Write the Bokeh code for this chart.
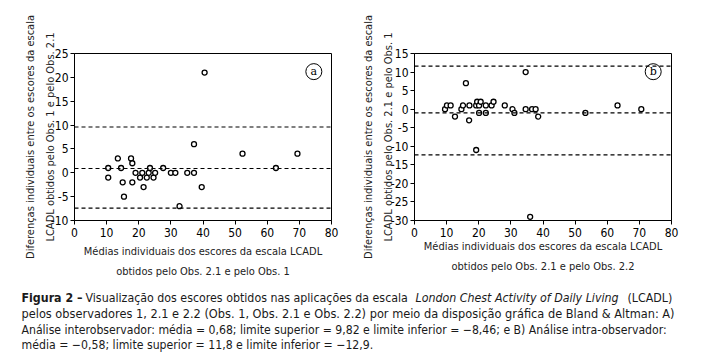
from bokeh.plotting import figure
from bokeh.models import Range1d, Span, FixedTicker
from bokeh.layouts import column, row
from bokeh.embed import file_html
from bokeh.resources import INLINE
from bokeh.core.properties import value

# ---- data: panel a (Obs. 1 vs Obs. 2.1) ----
a_mean = [10.5, 10.5, 13.5, 14.5, 15.0, 15.4, 17.6, 18.0, 18.0, 19.0, 20.4, 21.1, 21.5,
          22.5, 23.1, 23.5, 24.6, 25.1, 27.6, 30.0, 31.4, 32.7, 35.1, 37.2, 37.2, 39.6,
          40.5, 52.3, 62.7, 69.4]
a_diff = [1, -1, 3, 1, -2, -5, 3, 2, -2, 0, -1, 0, -3,
          -1, 0, 1, -1, 0, 1, 0, 0, -7, 0, 6, 0, -3,
          21, 4, 1, 4]
a_lines = [9.6, 0.9, -7.4]

# ---- data: panel b (Obs. 2.1 vs Obs. 2.2) ----
b_mean = [9.5, 10.1, 11.25, 12.6, 14.6, 15.1, 16.0, 17.0, 17.1, 19.2, 19.2, 19.5, 20.1,
          20.1, 20.6, 22.2, 22.2, 24.0, 24.6, 28.1, 30.5, 31.1, 34.6, 34.6, 36.0, 36.6,
          37.7, 38.5, 53.2, 63.2, 70.6]
b_diff = [0, 1, 1, -2, 0, 1, 7, -3, 1, -11, 1, 2, 1,
          -1, 2, 1, -1, 1, 2, 1, 0, -1, 10, 0, -29, 0,
          0, -2, -1, 1, 0]
b_lines = [11.6, -1.0, -12.3]

x_ticks = [0, 10, 20, 30, 40, 50, 60, 70, 80]
a_yticks = [-10, -5, 0, 5, 10, 15, 20, 25]
b_yticks = [-30, -25, -20, -15, -10, -5, 0, 5, 10, 15]

FONT = "DejaVu Sans Condensed"


def panel(xs, ys, lines, yticks, ylabel, xlabel, letter, letter_pos, borders, ystand, xstand):
    left, right, top, bottom = borders
    p = figure(frame_width=257, frame_height=167, output_backend="svg",
               toolbar_location=None, x_range=Range1d(0, 80),
               y_range=Range1d(yticks[0], yticks[-1]),
               min_border_left=left, min_border_right=right,
               min_border_top=top, min_border_bottom=bottom)
    p.xgrid.visible = False
    p.ygrid.visible = False
    p.outline_line_color = "black"
    p.outline_line_width = 1
    p.xaxis.ticker = FixedTicker(ticks=x_ticks)
    p.yaxis.ticker = FixedTicker(ticks=yticks)
    p.yaxis.major_label_overrides = {float(t): str(t) for t in yticks}
    for ax in (p.xaxis[0], p.yaxis[0]):
        ax.axis_line_color = "black"
        ax.major_tick_line_color = "black"
        ax.minor_tick_line_color = None
        ax.major_tick_in = 0
        ax.major_tick_out = 4
        ax.major_label_text_font = FONT
        ax.major_label_text_font_size = "12px"
        ax.major_label_text_color = "black"
        ax.axis_label_text_font = FONT
        ax.axis_label_text_font_size = "11px"
        ax.axis_label_text_font_style = "normal"
        ax.axis_label_text_color = "#222222"
    p.xaxis.axis_label = xlabel
    p.yaxis.axis_label = ylabel
    p.xaxis.axis_label_standoff = xstand
    p.xaxis.axis_label_text_line_height = 1.6
    p.yaxis.axis_label_standoff = ystand
    p.yaxis.axis_label_text_line_height = 1.5
    p.xaxis.major_label_standoff = 3
    p.yaxis.major_label_standoff = 2
    for v in lines:
        p.add_layout(Span(location=v, dimension="width", line_color="black",
                          line_width=1.2, line_dash="4 3"))
    p.scatter(xs, ys, marker="circle", size=5, fill_color="white",
              line_color="black", line_width=1.3)
    p.scatter([letter_pos[0]], [letter_pos[1]], marker="circle", size=16,
              fill_color="white", line_color="black", line_width=1)
    p.text([letter_pos[0]], [letter_pos[1]], text=[letter], text_align="center",
           text_baseline="middle", text_font=value("DejaVu Serif"),
           text_font_size="11px", text_color="black")
    return p


p1 = panel(a_mean, a_diff, a_lines, a_yticks,
           "Diferenças individuais entre os escores da escala\nLCADL obtidos pelo Obs. 1 e pelo Obs. 2.1",
           "Médias individuais dos escores da escala LCADL\nobtidos pelo Obs. 2.1 e pelo Obs. 1",
           "a", (74.5, 21.2), (74, 22, 49, 72), -9, 5)
p2 = panel(b_mean, b_diff, b_lines, b_yticks,
           "Diferenças individuais entre os escores da escala\nLCADL obtidos pelo Obs. 2.1 e pelo Obs. 1",
           "Médias individuais dos escores da escala LCADL\nobtidos pelo Obs. 2.1 e pelo Obs. 2.2",
           "b", (74.3, 10.1), (61, 37, 53, 68), -7, 0)

# ---- caption ----
cap = figure(width=707, height=72, output_backend="svg", toolbar_location=None,
             x_range=Range1d(0, 707), y_range=Range1d(72, 0),
             min_border=0, min_border_left=0, min_border_right=0,
             min_border_top=0, min_border_bottom=0)
cap.axis.visible = False
cap.grid.visible = False
cap.outline_line_color = None

seg_text = ["Figura 2 \u2013",
            "Visualização dos escores obtidos nas aplicações da escala",
            "London Chest Activity of Daily Living",
            "(LCADL)",
            "pelos observadores 1, 2.1 e 2.2 (Obs. 1, Obs. 2.1 e Obs. 2.2) por meio da disposição gráfica de Bland & Altman: A)",
            "Análise interobservador: média = 0,68; limite superior = 9,82 e limite inferior = \u22128,46; e B) Análise intra-observador:",
            "média = \u22120,58; limite superior = 11,8 e limite inferior = \u221212,9."]
seg_x = [21, 85, 415, 627, 21, 21, 21]
seg_line = [0, 0, 0, 0, 1, 2, 3]
seg_size = ["12.3px", "12.3px", "12.3px", "12.3px", "12.65px", "12.15px", "12.2px"]
seg_style = ["bold", "normal", "italic", "normal", "normal", "normal", "normal"]
line_y = [9, 25, 41, 56]
for t, x, ln, sz, s in zip(seg_text, seg_x, seg_line, seg_size, seg_style):
    cap.text([x], [line_y[ln]], text=[t], text_align="left", text_baseline="middle",
             text_font=value(FONT), text_font_size=sz, text_font_style=s,
             text_color="#1a1a1a")

layout = column(row(p1, p2), cap)
open("out.html", "w").write(file_html(layout, INLINE))
